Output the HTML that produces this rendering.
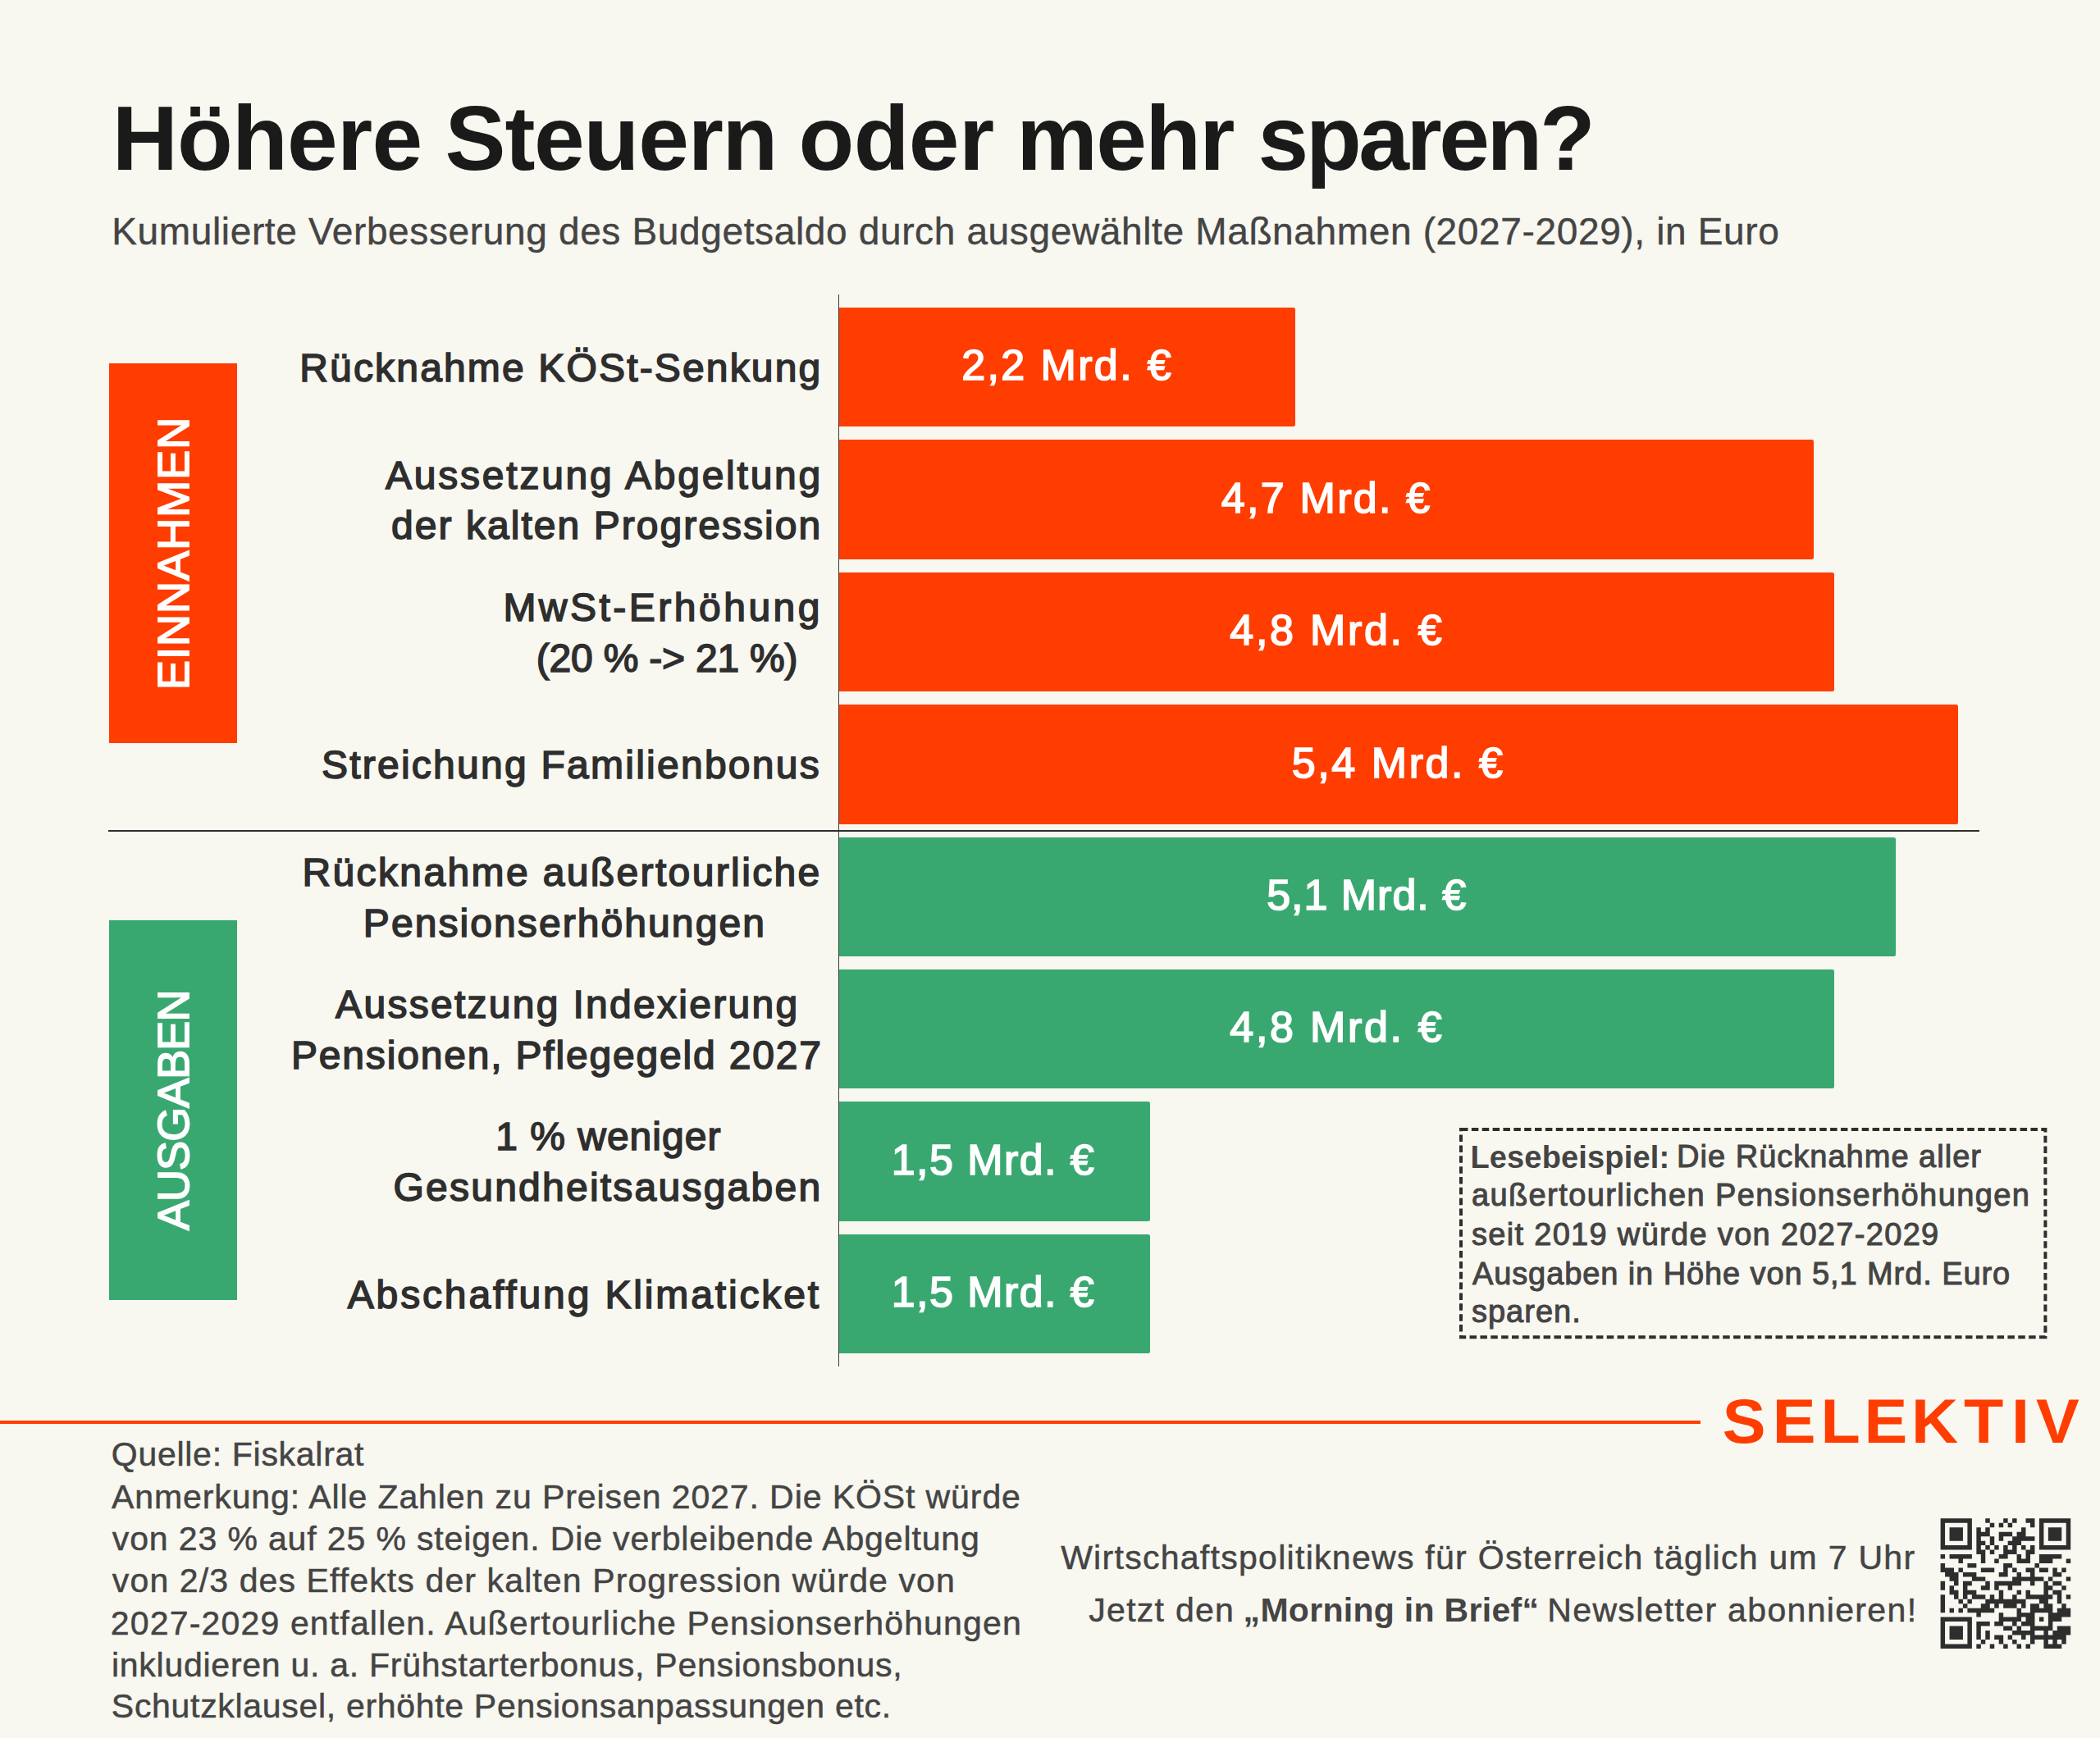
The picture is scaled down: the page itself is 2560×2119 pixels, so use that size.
<!DOCTYPE html>
<html lang="de"><head><meta charset="utf-8"><title>Höhere Steuern oder mehr sparen?</title>
<style>
html,body{margin:0;padding:0}
body{width:2560px;height:2119px;background:#F8F7F0;position:relative;overflow:hidden;font-family:"Liberation Sans",Arial,sans-serif}
.t{position:absolute;white-space:pre;margin:0}
.t span{position:absolute;top:0}
.b{font-weight:700}
.title{color:#1A1A1A}
.sub,.foot,.nl{color:#444444}
.lab{color:#2E2E2E}
.val{color:#fff}
.box{color:#444444;-webkit-text-stroke:1px #444444}
.box.b{-webkit-text-stroke:0}
.rot{color:#fff;transform-origin:0 0;transform:rotate(-90deg)}

.bar{position:absolute;left:1023px;height:145.4px;border-radius:0 2.5px 2.5px 0}
.r{background:#FF3D00}
.g{background:#39A870}
.cat{position:absolute;left:132.8px;width:156.3px}
.axis{position:absolute;background:#3a3a3a}
.rule{position:absolute;left:0;top:1732px;width:2073px;height:3.6px;background:#FF3D00}
svg{position:absolute;left:0;top:0;overflow:visible}

</style></head><body>

<div class="cat r" style="top:443px;height:463.3px"></div>
<div class="cat g" style="top:1121.6px;height:463.3px"></div>
<div class="bar r" style="top:375.0px;width:556px"></div>
<div class="bar r" style="top:536.4px;width:1187.5px"></div>
<div class="bar r" style="top:697.8px;width:1212.7px"></div>
<div class="bar r" style="top:859.2px;width:1363.8px"></div>
<div class="bar g" style="top:1020.6px;width:1288px"></div>
<div class="bar g" style="top:1182.0px;width:1212.7px"></div>
<div class="bar g" style="top:1343.4px;width:378.9px"></div>
<div class="bar g" style="top:1504.8px;width:378.9px"></div>
<div class="axis" style="left:1021.7px;top:358.5px;width:1.4px;height:1307.5px"></div>
<div class="axis" style="left:132px;top:1011.5px;width:2281.4px;height:2px;background:#2E2E2E"></div>
<div class="rule"></div>
<svg width="2560" height="2119" viewBox="0 0 2560 2119">
<rect x="1781" y="1377" width="712.4" height="253.2" fill="none" stroke="#2E2E2E" stroke-width="4" stroke-dasharray="8.5 4.36"/>
<g transform="translate(2365.6 1851.3) scale(5.4690)"><path d="M0 0h7v1h-7zM10 0h1v1h-1zM14 0h1v1h-1zM16 0h1v1h-1zM19 0h2v1h-2zM22 0h7v1h-7zM0 1h1v1h-1zM6 1h1v1h-1zM11 1h1v1h-1zM13 1h1v1h-1zM15 1h1v1h-1zM20 1h1v1h-1zM22 1h1v1h-1zM28 1h1v1h-1zM0 2h1v1h-1zM2 2h3v1h-3zM6 2h1v1h-1zM8 2h1v1h-1zM10 2h1v1h-1zM18 2h1v1h-1zM22 2h1v1h-1zM24 2h3v1h-3zM28 2h1v1h-1zM0 3h1v1h-1zM2 3h3v1h-3zM6 3h1v1h-1zM8 3h3v1h-3zM13 3h3v1h-3zM17 3h2v1h-2zM22 3h1v1h-1zM24 3h3v1h-3zM28 3h1v1h-1zM0 4h1v1h-1zM2 4h3v1h-3zM6 4h1v1h-1zM8 4h1v1h-1zM11 4h1v1h-1zM13 4h1v1h-1zM16 4h5v1h-5zM22 4h1v1h-1zM24 4h3v1h-3zM28 4h1v1h-1zM0 5h1v1h-1zM6 5h1v1h-1zM8 5h2v1h-2zM11 5h1v1h-1zM15 5h3v1h-3zM22 5h1v1h-1zM28 5h1v1h-1zM0 6h7v1h-7zM8 6h1v1h-1zM10 6h1v1h-1zM12 6h1v1h-1zM14 6h1v1h-1zM16 6h1v1h-1zM18 6h1v1h-1zM20 6h1v1h-1zM22 6h7v1h-7zM8 7h2v1h-2zM11 7h1v1h-1zM14 7h3v1h-3zM19 7h2v1h-2zM0 8h1v1h-1zM2 8h5v1h-5zM9 8h1v1h-1zM13 8h2v1h-2zM17 8h1v1h-1zM19 8h1v1h-1zM22 8h5v1h-5zM4 9h1v1h-1zM9 9h1v1h-1zM12 9h1v1h-1zM17 9h3v1h-3zM22 9h3v1h-3zM28 9h1v1h-1zM0 10h1v1h-1zM6 10h2v1h-2zM14 10h2v1h-2zM21 10h1v1h-1zM0 11h3v1h-3zM4 11h1v1h-1zM9 11h3v1h-3zM14 11h1v1h-1zM16 11h1v1h-1zM19 11h2v1h-2zM22 11h2v1h-2zM25 11h1v1h-1zM27 11h1v1h-1zM1 12h3v1h-3zM5 12h3v1h-3zM13 12h2v1h-2zM17 12h1v1h-1zM20 12h1v1h-1zM25 12h2v1h-2zM2 13h2v1h-2zM7 13h3v1h-3zM16 13h7v1h-7zM24 13h1v1h-1zM28 13h1v1h-1zM0 14h1v1h-1zM3 14h1v1h-1zM5 14h2v1h-2zM10 14h1v1h-1zM12 14h6v1h-6zM20 14h1v1h-1zM23 14h1v1h-1zM25 14h2v1h-2zM0 15h1v1h-1zM2 15h1v1h-1zM5 15h1v1h-1zM9 15h2v1h-2zM12 15h1v1h-1zM15 15h1v1h-1zM23 15h2v1h-2zM27 15h1v1h-1zM2 16h2v1h-2zM5 16h3v1h-3zM13 16h1v1h-1zM17 16h1v1h-1zM19 16h1v1h-1zM23 16h1v1h-1zM25 16h2v1h-2zM0 17h1v1h-1zM3 17h1v1h-1zM5 17h1v1h-1zM7 17h3v1h-3zM11 17h1v1h-1zM13 17h1v1h-1zM16 17h1v1h-1zM19 17h6v1h-6zM26 17h1v1h-1zM28 17h1v1h-1zM0 18h1v1h-1zM4 18h1v1h-1zM6 18h1v1h-1zM10 18h9v1h-9zM22 18h2v1h-2zM26 18h1v1h-1zM0 19h1v1h-1zM5 19h1v1h-1zM9 19h2v1h-2zM12 19h1v1h-1zM14 19h3v1h-3zM18 19h1v1h-1zM20 19h2v1h-2zM23 19h2v1h-2zM27 19h1v1h-1zM0 20h1v1h-1zM2 20h1v1h-1zM4 20h1v1h-1zM6 20h6v1h-6zM17 20h1v1h-1zM20 20h5v1h-5zM26 20h3v1h-3zM8 21h1v1h-1zM13 21h1v1h-1zM17 21h4v1h-4zM24 21h5v1h-5zM0 22h7v1h-7zM13 22h5v1h-5zM19 22h2v1h-2zM22 22h1v1h-1zM24 22h3v1h-3zM0 23h1v1h-1zM6 23h1v1h-1zM8 23h3v1h-3zM12 23h2v1h-2zM16 23h1v1h-1zM18 23h3v1h-3zM24 23h1v1h-1zM0 24h1v1h-1zM2 24h3v1h-3zM6 24h1v1h-1zM8 24h1v1h-1zM14 24h2v1h-2zM17 24h1v1h-1zM20 24h5v1h-5zM26 24h3v1h-3zM0 25h1v1h-1zM2 25h3v1h-3zM6 25h1v1h-1zM8 25h1v1h-1zM10 25h1v1h-1zM16 25h5v1h-5zM23 25h1v1h-1zM25 25h4v1h-4zM0 26h1v1h-1zM2 26h3v1h-3zM6 26h1v1h-1zM8 26h1v1h-1zM10 26h1v1h-1zM12 26h2v1h-2zM15 26h1v1h-1zM18 26h1v1h-1zM20 26h8v1h-8zM0 27h1v1h-1zM6 27h1v1h-1zM9 27h1v1h-1zM13 27h1v1h-1zM16 27h1v1h-1zM20 27h1v1h-1zM23 27h1v1h-1zM25 27h1v1h-1zM27 27h1v1h-1zM0 28h7v1h-7zM8 28h1v1h-1zM11 28h1v1h-1zM14 28h1v1h-1zM17 28h1v1h-1zM19 28h1v1h-1zM23 28h4v1h-4z" fill="#2E2E2E"/></g>
</svg>

<h1 class="t title b" style="left:0;top:114.00px;font-size:111px;line-height:111px"><span style="left:136.70px;letter-spacing:-0.799px">Höhere</span> <span style="left:542.60px;letter-spacing:-1.244px">Steuern</span> <span style="left:973.60px;letter-spacing:-0.680px">oder</span> <span style="left:1239.30px;letter-spacing:-1.744px">mehr</span> <span style="left:1533.60px;letter-spacing:-3.434px">sparen?</span></h1>
<p class="t sub" style="left:136.20px;top:259.40px;font-size:46px;line-height:46px;letter-spacing:0.643px;-webkit-text-stroke:0.4px #444444">Kumulierte Verbesserung des Budgetsaldo durch ausgewählte Maßnahmen (2027-2029), in Euro</p>
<div class="t lab" style="left:365.30px;top:424.90px;font-size:48px;line-height:48px;letter-spacing:2.155px;-webkit-text-stroke:1.6px #2E2E2E">Rücknahme KÖSt-Senkung</div>
<div class="t lab" style="left:470.10px;top:555.70px;font-size:48px;line-height:48px;letter-spacing:2.760px;-webkit-text-stroke:1.6px #2E2E2E">Aussetzung Abgeltung</div>
<div class="t lab" style="left:477.10px;top:617.40px;font-size:48px;line-height:48px;letter-spacing:2.040px;-webkit-text-stroke:1.6px #2E2E2E">der kalten Progression</div>
<div class="t lab" style="left:613.40px;top:717.10px;font-size:48px;line-height:48px;letter-spacing:3.495px;-webkit-text-stroke:1.6px #2E2E2E">MwSt-Erhöhung</div>
<div class="t lab" style="left:653.80px;top:778.80px;font-size:48px;line-height:48px;letter-spacing:-0.214px;-webkit-text-stroke:1.6px #2E2E2E">(20 % -&gt; 21 %)</div>
<div class="t lab" style="left:391.90px;top:909.10px;font-size:48px;line-height:48px;letter-spacing:2.253px;-webkit-text-stroke:1.6px #2E2E2E">Streichung Familienbonus</div>
<div class="t lab" style="left:368.50px;top:1039.90px;font-size:48px;line-height:48px;letter-spacing:2.370px;-webkit-text-stroke:1.6px #2E2E2E">Rücknahme außertourliche</div>
<div class="t lab" style="left:442.80px;top:1101.60px;font-size:48px;line-height:48px;letter-spacing:2.082px;-webkit-text-stroke:1.6px #2E2E2E">Pensionserhöhungen</div>
<div class="t lab" style="left:409.10px;top:1201.30px;font-size:48px;line-height:48px;letter-spacing:2.290px;-webkit-text-stroke:1.6px #2E2E2E">Aussetzung Indexierung</div>
<div class="t lab" style="left:355.00px;top:1262.70px;font-size:48px;line-height:48px;letter-spacing:1.816px;-webkit-text-stroke:1.6px #2E2E2E">Pensionen, Pflegegeld 2027</div>
<div class="t lab" style="left:604.20px;top:1362.00px;font-size:48px;line-height:48px;letter-spacing:1.004px;-webkit-text-stroke:1.6px #2E2E2E">1 % weniger</div>
<div class="t lab" style="left:479.50px;top:1423.50px;font-size:48px;line-height:48px;letter-spacing:2.234px;-webkit-text-stroke:1.6px #2E2E2E">Gesundheitsausgaben</div>
<div class="t lab" style="left:423.70px;top:1554.70px;font-size:48px;line-height:48px;letter-spacing:2.866px;-webkit-text-stroke:1.6px #2E2E2E">Abschaffung Klimaticket</div>
<div class="t val" style="left:1172.15px;top:419.35px;font-size:52px;line-height:52px;letter-spacing:2.391px;-webkit-text-stroke:1.7px #FFFFFF">2,2 Mrd. €</div>
<div class="t val" style="left:1488.85px;top:580.75px;font-size:52px;line-height:52px;letter-spacing:2.258px;-webkit-text-stroke:1.7px #FFFFFF">4,7 Mrd. €</div>
<div class="t val" style="left:1499.35px;top:742.15px;font-size:52px;line-height:52px;letter-spacing:2.702px;-webkit-text-stroke:1.7px #FFFFFF">4,8 Mrd. €</div>
<div class="t val" style="left:1574.75px;top:903.55px;font-size:52px;line-height:52px;letter-spacing:2.569px;-webkit-text-stroke:1.7px #FFFFFF">5,4 Mrd. €</div>
<div class="t val" style="left:1544.15px;top:1064.95px;font-size:52px;line-height:52px;letter-spacing:0.980px;-webkit-text-stroke:1.7px #FFFFFF">5,1 Mrd. €</div>
<div class="t val" style="left:1499.35px;top:1226.35px;font-size:52px;line-height:52px;letter-spacing:2.702px;-webkit-text-stroke:1.7px #FFFFFF">4,8 Mrd. €</div>
<div class="t val" style="left:1086.75px;top:1387.75px;font-size:52px;line-height:52px;letter-spacing:1.435px;-webkit-text-stroke:1.7px #FFFFFF">1,5 Mrd. €</div>
<div class="t val" style="left:1086.75px;top:1549.15px;font-size:52px;line-height:52px;letter-spacing:1.435px;-webkit-text-stroke:1.7px #FFFFFF">1,5 Mrd. €</div>
<p class="t box b" style="left:1792.40px;top:1391.90px;font-size:38px;line-height:38px;letter-spacing:0.157px">Lesebeispiel:</p>
<p class="t box" style="left:2044.10px;top:1391.40px;font-size:38px;line-height:38px;letter-spacing:1.008px">Die Rücknahme aller</p>
<p class="t box" style="left:1793.90px;top:1437.80px;font-size:38px;line-height:38px;letter-spacing:1.402px">außertourlichen Pensionserhöhungen</p>
<p class="t box" style="left:1793.90px;top:1486.30px;font-size:38px;line-height:38px;letter-spacing:1.319px">seit 2019 würde von 2027-2029</p>
<p class="t box" style="left:1794.90px;top:1534.40px;font-size:38px;line-height:38px;letter-spacing:0.908px">Ausgaben in Höhe von 5,1 Mrd. Euro</p>
<p class="t box" style="left:1793.90px;top:1580.40px;font-size:38px;line-height:38px;letter-spacing:1.018px">sparen.</p>
<p class="t foot" style="left:135.85px;top:1752.85px;font-size:41px;line-height:41px;letter-spacing:0.711px;-webkit-text-stroke:0.5px #444444">Quelle: Fiskalrat</p>
<p class="t foot" style="left:135.95px;top:1805.15px;font-size:41px;line-height:41px;letter-spacing:0.910px;-webkit-text-stroke:0.5px #444444">Anmerkung: Alle Zahlen zu Preisen 2027. Die KÖSt würde</p>
<p class="t foot" style="left:136.85px;top:1855.75px;font-size:41px;line-height:41px;letter-spacing:0.864px;-webkit-text-stroke:0.5px #444444">von 23 % auf 25 % steigen. Die verbleibende Abgeltung</p>
<p class="t foot" style="left:136.85px;top:1906.65px;font-size:41px;line-height:41px;letter-spacing:1.115px;-webkit-text-stroke:0.5px #444444">von 2/3 des Effekts der kalten Progression würde von</p>
<p class="t foot" style="left:134.85px;top:1958.65px;font-size:41px;line-height:41px;letter-spacing:1.158px;-webkit-text-stroke:0.5px #444444">2027-2029 entfallen. Außertourliche Pensionserhöhungen</p>
<p class="t foot" style="left:135.95px;top:2010.05px;font-size:41px;line-height:41px;letter-spacing:0.738px;-webkit-text-stroke:0.5px #444444">inkludieren u. a. Frühstarterbonus, Pensionsbonus,</p>
<p class="t foot" style="left:135.85px;top:2060.05px;font-size:41px;line-height:41px;letter-spacing:0.688px;-webkit-text-stroke:0.5px #444444">Schutzklausel, erhöhte Pensionsanpassungen etc.</p>
<p class="t nl" style="left:1293.15px;top:1879.15px;font-size:41px;line-height:41px;letter-spacing:1.284px;-webkit-text-stroke:0.5px #444444">Wirtschaftspolitiknews für Österreich täglich um 7 Uhr</p>
<p class="t nl" style="left:1327.35px;top:1942.85px;font-size:41px;line-height:41px;letter-spacing:1.265px;-webkit-text-stroke:0.5px #444444">Jetzt den</p>
<p class="t nl b" style="left:1515.60px;top:1943.10px;font-size:41px;line-height:41px;letter-spacing:0.300px">„Morning in Brief“</p>
<p class="t nl" style="left:1886.35px;top:1942.85px;font-size:41px;line-height:41px;letter-spacing:1.336px;-webkit-text-stroke:0.5px #444444">Newsletter abonnieren!</p>
<div class="t rot" style="left:183.60px;top:840.70px;font-size:54px;line-height:54px;letter-spacing:1.034px;-webkit-text-stroke:1.8px #fff">EINNAHMEN</div>
<div class="t rot" style="left:184.10px;top:1499.70px;font-size:54px;line-height:54px;letter-spacing:-0.955px;-webkit-text-stroke:1.8px #fff">AUSGABEN</div>
<svg width="2560" height="2119" viewBox="0 0 2560 2119"><text transform="scale(1.05 1)" x="1999.81 2057.88 2113.79 2164.36 2219.02 2279.90 2335.31 2363.71" y="1759.2" font-family="Liberation Sans, Arial, sans-serif" font-size="75.3" font-weight="700" fill="#FF3D00">SELEKTIV</text></svg>
</body></html>
